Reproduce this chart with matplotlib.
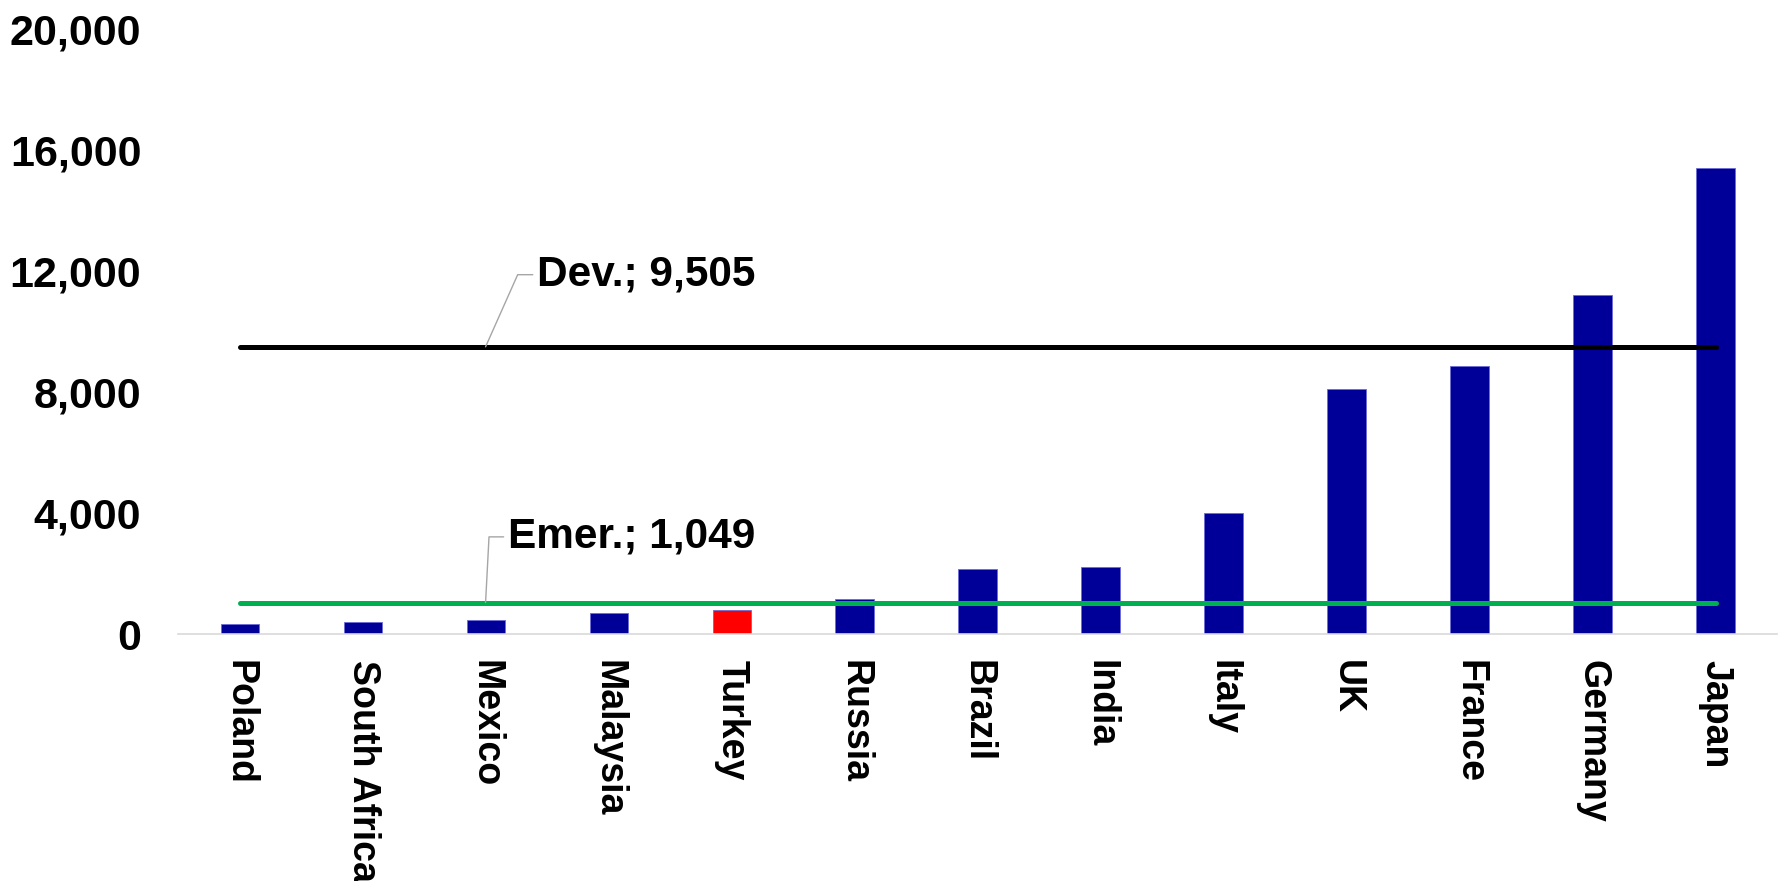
import matplotlib
matplotlib.use("Agg")
import matplotlib.pyplot as plt
from matplotlib.ticker import FuncFormatter

countries = ["Poland", "South Africa", "Mexico", "Malaysia", "Turkey", "Russia",
             "Brazil", "India", "Italy", "UK", "France", "Germany", "Japan"]
values = [330, 416, 462, 704, 803, 1176, 2157, 2233, 3997, 8126, 8862, 11230, 15425]
highlight = "Turkey"

dev_avg = 9505
emer_avg = 1049
y_ticks = [0, 4000, 8000, 12000, 16000, 20000]

plt.rcParams["font.family"] = ["Liberation Sans", "DejaVu Sans"]
plt.rcParams["font.weight"] = "bold"

fig = plt.figure(figsize=(17.79, 8.81), dpi=100)
ax = fig.add_axes([0.1001, 0.2800, 0.8988, 0.6867])

x = list(range(len(countries)))
colors = ["#FF0000" if c == highlight else "#000099" for c in countries]
ax.bar(x, values, width=0.31, color=colors, edgecolor="#6b6bd6", linewidth=0.6, zorder=2)

ax.plot(x, [dev_avg] * len(x), color="black", lw=3.6, solid_capstyle="round", zorder=3)
ax.plot(x, [emer_avg] * len(x), color="#00B050", lw=3.6, solid_capstyle="round", zorder=3)

leader = dict(arrowstyle="-", color="#a6a6a6", lw=1.0, shrinkA=1, shrinkB=0,
              relpos=(0, 0.5))
ax.annotate(f"Dev.; {dev_avg:,}", xy=(2, dev_avg), xytext=(37, 44),
            textcoords="offset points", ha="left", va="baseline",
            fontsize=30.5, fontweight="bold",
            arrowprops=dict(leader, connectionstyle="angle,angleA=180,angleB=66"))
ax.annotate(f"Emer.; {emer_avg:,}", xy=(2, emer_avg), xytext=(16, 39.4),
            textcoords="offset points", ha="left", va="baseline",
            fontsize=30.5, fontweight="bold",
            arrowprops=dict(leader, connectionstyle="angle,angleA=180,angleB=87"))

ax.set_xlim(-0.5, len(countries) - 0.5)
ax.set_ylim(0, 20000)
ax.set_yticks(y_ticks)
ax.yaxis.set_major_formatter(FuncFormatter(lambda v, p: f"{int(v):,}"))
ax.set_xticks(x)
ax.set_xticklabels(countries, rotation=270, ha="center", va="top",
                   fontsize=27, fontweight="bold")
ax.tick_params(axis="y", length=0, pad=26.5, labelsize=31)
ax.tick_params(axis="x", length=0, pad=18.5)

for s in ["top", "right", "left"]:
    ax.spines[s].set_visible(False)
ax.spines["bottom"].set_color("#d9d9d9")
ax.spines["bottom"].set_linewidth(1.2)

fig.savefig("out.png", dpi=100)
